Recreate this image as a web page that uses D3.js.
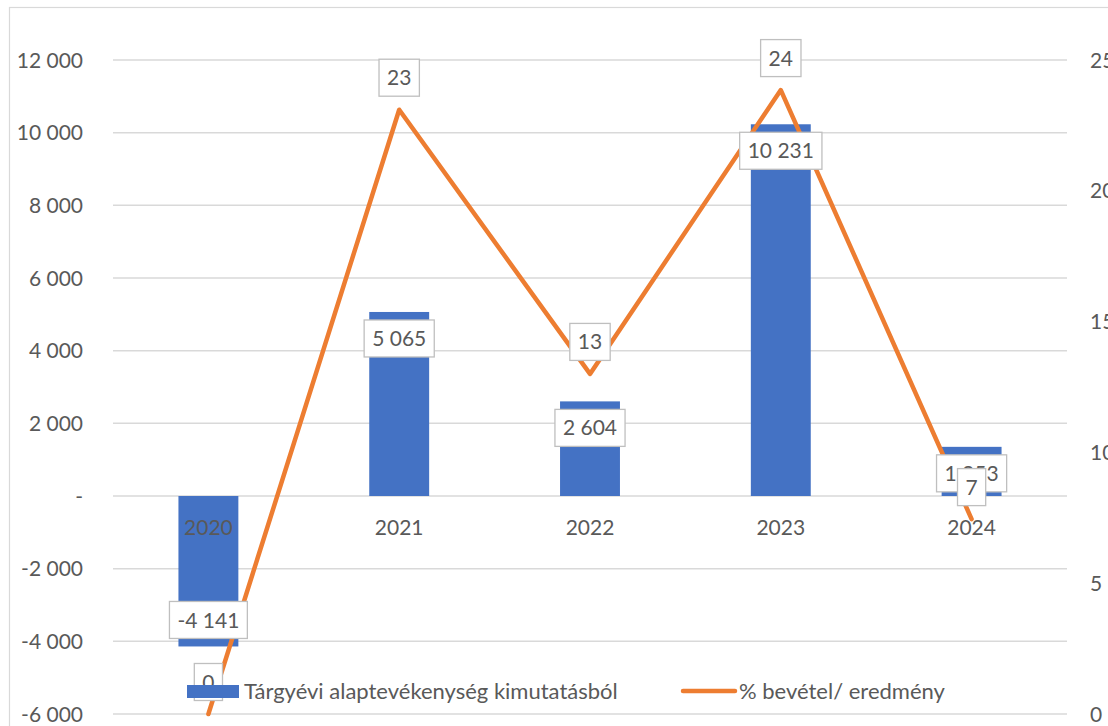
<!DOCTYPE html>
<html><head><meta charset="utf-8">
<script src="https://cdn.jsdelivr.net/npm/d3@7"></script>
<style>body{margin:0;background:#fff}svg{display:block}text{font-family:Lato,"Open Sans",sans-serif;fill:#595959}</style>
</head><body><svg id="c" width="1108" height="726"></svg>
<script>
const years = ["2020","2021","2022","2023","2024"];
const barValues = [-4141, 5065, 2604, 10231, 1353];
const lineValues = [0, 23.1, 13.0, 23.85, 7.45];
const leftTicks = [-6000,-4000,-2000,0,2000,4000,6000,8000,10000,12000];
const rightTicks = [0,5,10,15,20,25];
const barName = "Tárgyévi alaptevékenység kimutatásból";
const lineName = "% bevétel/ eredmény";

const svg = d3.select("#c");
const FS = 21;
const locale = d3.formatLocale({decimal:",", thousands:" ", grouping:[3], currency:["",""], minus:"-"});
const x = d3.scaleBand().domain(years).range([113,1067]).paddingInner(0.686).paddingOuter(0.343);
const yL = d3.scaleLinear().domain([-6000,12000]).range([714,60]);
const yR = d3.scaleLinear().domain([0,25]).range([714,60]);
const cx = d => x(d) + x.bandwidth()/2;
const fmtN = v => v === 0 ? "-" : locale.format(",")(v);
const fmtL = v => locale.format(".0f")(v);

// chart border
svg.append("rect").attr("x",9.5).attr("y",7.5).attr("width",1200).attr("height",800)
  .attr("fill","none").attr("stroke","#d9d9d9").attr("stroke-width",1.2);

// gridlines
svg.append("g").selectAll("line").data(leftTicks).join("line")
  .attr("x1",113).attr("x2",1067).attr("y1",d=>yL(d)).attr("y2",d=>yL(d))
  .attr("stroke","#d9d9d9").attr("stroke-width",1.5);

// left axis labels
svg.append("g").selectAll("text").data(leftTicks).join("text")
  .attr("x",83).attr("y",d=>yL(d)).attr("dy","0.36em").attr("text-anchor","end")
  .attr("font-size",FS).text(fmtN);
// right axis labels
svg.append("g").selectAll("text").data(rightTicks).join("text")
  .attr("x",1090).attr("y",d=>yR(d)).attr("dy","0.36em").attr("text-anchor","start")
  .attr("font-size",FS).text(d=>d);

// bars
svg.append("g").selectAll("rect").data(years).join("rect")
  .attr("x",d=>x(d)).attr("width",x.bandwidth())
  .attr("y",(d,i)=>Math.min(yL(barValues[i]),yL(0)))
  .attr("height",(d,i)=>Math.abs(yL(barValues[i])-yL(0)))
  .attr("fill","#4472C4");

// category labels
svg.append("g").selectAll("text").data(years).join("text")
  .attr("x",cx).attr("y",yL(0)+31).attr("dy","0.36em").attr("text-anchor","middle")
  .attr("font-size",FS).text(d=>d);

// line
svg.append("path").datum(years)
  .attr("d", d3.line().x(cx).y((d,i)=>yR(lineValues[i])))
  .attr("fill","none").attr("stroke","#ED7D31").attr("stroke-width",4.5)
  .attr("stroke-linejoin","round").attr("stroke-linecap","round");

function label(g, px, py, txt){
  const t = g.append("text").attr("x",px).attr("y",py).attr("dy","0.36em")
    .attr("text-anchor","middle").attr("font-size",FS).text(txt);
  const w = t.node().getComputedTextLength() + 16, h = 37;
  g.insert("rect","text").attr("x",px-w/2).attr("y",py-h/2).attr("width",w).attr("height",h)
    .attr("fill","#fff").attr("stroke","#bfbfbf").attr("stroke-width",1.3);
}
// bar labels
years.forEach((d,i)=>{
  const v = barValues[i];
  const py = v >= 0 ? yL(v)+26.5 : yL(v)-26.5;
  label(svg.append("g"), cx(d), py, fmtN(v));
});
// line labels
years.forEach((d,i)=>{
  label(svg.append("g"), cx(d), yR(lineValues[i])-32, fmtL(lineValues[i]));
});

// legend
const lg = svg.append("g");
lg.append("rect").attr("x",187).attr("y",685).attr("width",52).attr("height",13).attr("fill","#4472C4");
lg.append("text").attr("x",244).attr("y",691).attr("dy","0.36em").attr("font-size",22).text(barName);
lg.append("line").attr("x1",683).attr("x2",735).attr("y1",691).attr("y2",691)
  .attr("stroke","#ED7D31").attr("stroke-width",4.5).attr("stroke-linecap","round");
lg.append("text").attr("x",739).attr("y",691).attr("dy","0.36em").attr("font-size",22).text(lineName);
</script></body></html>
